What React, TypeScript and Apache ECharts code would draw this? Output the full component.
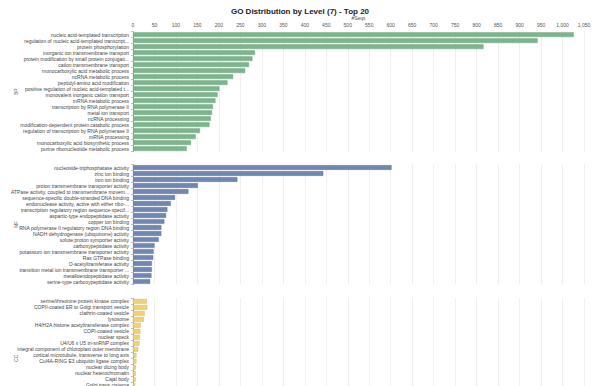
import React, { useEffect, useRef } from "react";
import * as echarts from "echarts";

const bpCategories = [
  "nucleic acid-templated transcription",
  "regulation of nucleic acid-templated transcript...",
  "protein phosphorylation",
  "inorganic ion transmembrane transport",
  "protein modification by small protein conjugati...",
  "cation transmembrane transport",
  "monocarboxylic acid metabolic process",
  "ncRNA metabolic process",
  "peptidyl-amino acid modification",
  "positive regulation of nucleic acid-templated t...",
  "monovalent inorganic cation transport",
  "mRNA metabolic process",
  "transcription by RNA polymerase II",
  "metal ion transport",
  "ncRNA processing",
  "modification-dependent protein catabolic process",
  "regulation of transcription by RNA polymerase II",
  "mRNA processing",
  "monocarboxylic acid biosynthetic process",
  "purine ribonucleotide metabolic process",
];
const bpValues = [1026, 942, 816, 284, 278, 270, 261, 233, 220, 201, 197, 192, 186, 184, 181, 178, 156, 146, 135, 125];

const mfCategories = [
  "nucleoside-triphosphatase activity",
  "zinc ion binding",
  "iron ion binding",
  "proton transmembrane transporter activity",
  "ATPase activity, coupled to transmembrane movem...",
  "sequence-specific double-stranded DNA binding",
  "endonuclease activity, active with either ribo-...",
  "transcription regulatory region sequence-specif...",
  "aspartic-type endopeptidase activity",
  "copper ion binding",
  "RNA polymerase II regulatory region DNA binding",
  "NADH dehydrogenase (ubiquinone) activity",
  "solute:proton symporter activity",
  "carboxypeptidase activity",
  "potassium ion transmembrane transporter activity",
  "Ras GTPase binding",
  "O-acetyltransferase activity",
  "transition metal ion transmembrane transporter ...",
  "metalloendopeptidase activity",
  "serine-type carboxypeptidase activity",
];
const mfValues = [602, 443, 243, 151, 129, 98, 88, 80, 77, 73, 66, 66, 60, 50, 48, 47, 44, 44, 43, 40];

const ccCategories = [
  "serine/threonine protein kinase complex",
  "COPII-coated ER to Golgi transport vesicle",
  "clathrin-coated vesicle",
  "lysosome",
  "H4/H2A histone acetyltransferase complex",
  "COPI-coated vesicle",
  "nuclear speck",
  "U4/U6 x U5 tri-snRNP complex",
  "integral component of chloroplast outer membrane",
  "cortical microtubule, transverse to long axis",
  "Cul4A-RING E3 ubiquitin ligase complex",
  "nuclear dicing body",
  "nuclear heterochromatin",
  "Cajal body",
  "Golgi trans cisterna",
  " ",
  "  ",
  "   ",
  "    ",
  "     ",
];
const ccValues = [32, 33, 27, 25, 18, 17, 16, 15, 12, 8, 8, 7, 6, 6, 5, null, null, null, null, null];

const xTickMax = 1050;
const xTickStep = 50;

const FONT = 'Arial, "Liberation Sans", sans-serif';

export default function App() {
  const ref = useRef<HTMLDivElement>(null);
  useEffect(() => {
    if (!ref.current) return;
    const chart = echarts.init(ref.current, null, { renderer: "svg" });
    const gridTops = [31.7, 164.5, 298.3];
    const sections = [
      { name: "BP", cats: bpCategories, vals: bpValues, color: "#7cb48c", border: "#6a9f79" },
      { name: "MF", cats: mfCategories, vals: mfValues, color: "#7187b0", border: "#5f749b" },
      { name: "CC", cats: ccCategories, vals: ccValues, color: "#efd277", border: "#c9a947" },
    ];
    chart.setOption({
      animation: false,
      textStyle: { fontFamily: FONT },
      title: {
        text: "GO Distribution by Level (7) - Top 20",
        left: "center",
        top: 2,
        textStyle: { fontSize: 8, fontWeight: "bold", color: "#222", fontFamily: FONT },
      },
      grid: gridTops.map((t) => ({
        left: 133,
        width: 451,
        top: t,
        height: 120,
        containLabel: false,
        outerBoundsMode: "none",
      })),
      xAxis: gridTops.map((_, i) => ({
        type: "value",
        gridIndex: i,
        position: "top",
        min: 0,
        max: xTickMax,
        interval: xTickStep,
        name: i === 0 ? "#Seqs" : "",
        nameLocation: "middle",
        nameGap: 14,
        nameMoveOverlap: false,
        nameTextStyle: { fontSize: 5, color: "#555", verticalAlign: "middle" },
        axisLine: { show: false },
        axisTick: { show: false },
        axisLabel: {
          show: i === 0,
          fontSize: 5,
          color: "#555",
          margin: 4,
          formatter: (v: number) => v.toLocaleString("en-US"),
        },
        splitLine: { show: true, lineStyle: { color: "#ebebeb", width: 0.8 } },
      })),
      yAxis: sections.map((s, i) => ({
        type: "category",
        gridIndex: i,
        inverse: true,
        data: s.cats,
        name: s.name,
        nameLocation: "middle",
        nameRotate: 90,
        nameGap: 117,
        nameMoveOverlap: false,
        nameTextStyle: { fontSize: 5, color: "#555", verticalAlign: "middle" },
        axisLine: { show: true, lineStyle: { color: "#999", width: 0.8 } },
        axisTick: { show: true, length: 2, lineStyle: { color: "#999", width: 0.6 } },
        axisLabel: { fontSize: 5, color: "#444", margin: 4, interval: 0 },
        splitLine: { show: false },
      })),
      series: sections.map((s, i) => ({
        type: "bar",
        xAxisIndex: i,
        yAxisIndex: i,
        data: s.vals,
        barCategoryGap: "22%",
        itemStyle: { color: s.color, borderColor: s.border, borderWidth: 0.4 },
      })),
    });
    return () => chart.dispose();
  }, []);
  return (
    <div style={{ position: "fixed", left: 0, top: 0, width: 600, height: 386, overflow: "hidden", background: "#fff" }}>
      <div ref={ref} style={{ width: 600, height: 430 }} />
    </div>
  );
}
